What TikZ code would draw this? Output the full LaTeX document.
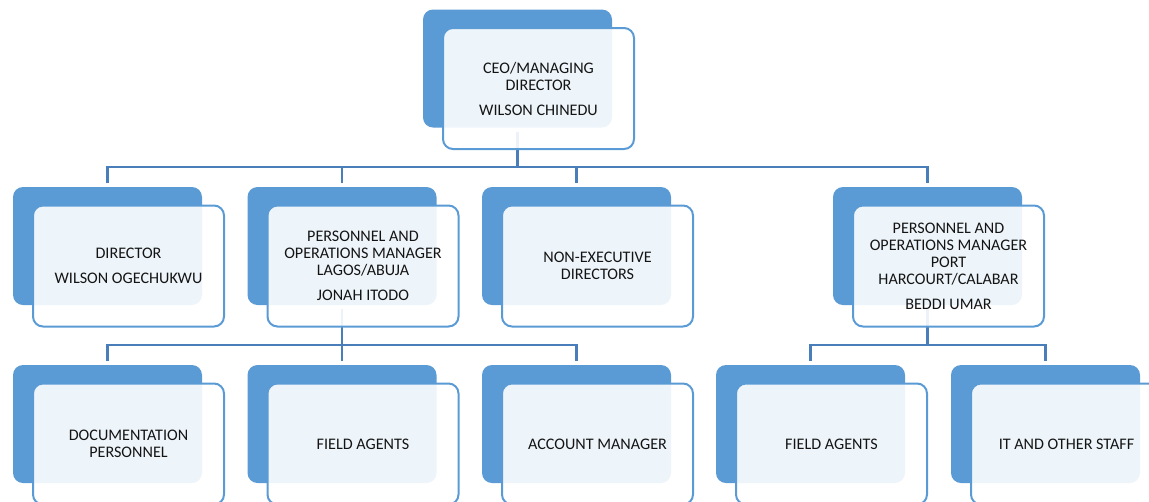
\documentclass[tikz,border=0pt]{standalone}
\usepackage{fontspec}
\setmainfont{Carlito}
\definecolor{boxblue}{HTML}{5B9BD5}
\definecolor{lineblue}{HTML}{4A7EBB}

\begin{document}
\begin{tikzpicture}[x=0.75pt,y=-0.75pt,
  back/.style={fill=boxblue, rounded corners=7.5pt, minimum width=141.75pt, minimum height=88.5pt, outer sep=3pt},
  front/.style={draw=boxblue, line width=1.5pt, fill=white, fill opacity=0.9, text opacity=1, rounded corners=7.5pt, minimum width=143.25pt, minimum height=90.75pt, align=center, text=black!92, font=\fontsize{12.1}{12.75}\selectfont},
  conn/.style={draw=lineblue, line width=1.7pt}]

\useasboundingbox (0,0) rectangle (1149,501);
\clip (0,0) rectangle (1149,501);

\node [back] (ceoB) at (517.5,68.5) {};

\node [back] (dirB) at (107.5,246) {};
\node [back] (lagB) at (342,246) {};
\node [back] (nexB) at (576.5,246) {};
\node [back] (phcB) at (927.5,246) {};

\node [back] (docB) at (107.5,424) {};
\node [back] (fa1B) at (342,424) {};
\node [back] (accB) at (576.5,424) {};
\node [back] (fa2B) at (810.5,424) {};
\node [back] (itsB) at (1045.5,424) {};

\coordinate (bar1) at (517.5,167);
\draw [conn] (ceoB.south) -- (bar1);
\draw [conn] (dirB.north) |- (bar1);
\draw [conn] (lagB.north) |- (bar1);
\draw [conn] (nexB.north) |- (bar1);
\draw [conn] (phcB.north) |- (bar1);

\coordinate (bar2) at (342,345);
\draw [conn] (lagB.south) -- (bar2);
\draw [conn] (docB.north) |- (bar2);
\draw [conn] (fa1B.north) |- (bar2);
\draw [conn] (accB.north) |- (bar2);

\coordinate (bar3) at (927.5,345);
\draw [conn] (phcB.south) -- (bar3);
\draw [conn] (fa2B.north) |- (bar3);
\draw [conn] (itsB.north) |- (bar3);

\node [front] (ceo) at ([shift={(21,20)}]ceoB) {CEO/MANAGING\\DIRECTOR\\[6pt]WILSON CHINEDU};

\node [front] (dir) at ([shift={(21,20)}]dirB) {DIRECTOR\\[6pt]WILSON OGECHUKWU};
\node [front] (lag) at ([shift={(21,20)}]lagB) {PERSONNEL AND\\OPERATIONS MANAGER\\LAGOS/ABUJA\\[6pt]JONAH ITODO};
\node [front] (nex) at ([shift={(21,20)}]nexB) {NON-EXECUTIVE\\DIRECTORS};
\node [front] (phc) at ([shift={(21,20)}]phcB) {PERSONNEL AND\\OPERATIONS MANAGER\\PORT\\HARCOURT/CALABAR\\[6pt]BEDDI UMAR};

\node [front] (doc) at ([shift={(21,20)}]docB) {DOCUMENTATION\\PERSONNEL};
\node [front] (fa1) at ([shift={(21,20)}]fa1B) {FIELD AGENTS};
\node [front] (acc) at ([shift={(21,20)}]accB) {ACCOUNT MANAGER};
\node [front] (fa2) at ([shift={(21,20)}]fa2B) {FIELD AGENTS};
\node [front] (its) at ([shift={(21,20)}]itsB) {IT AND OTHER STAFF};
\end{tikzpicture}
\end{document}
